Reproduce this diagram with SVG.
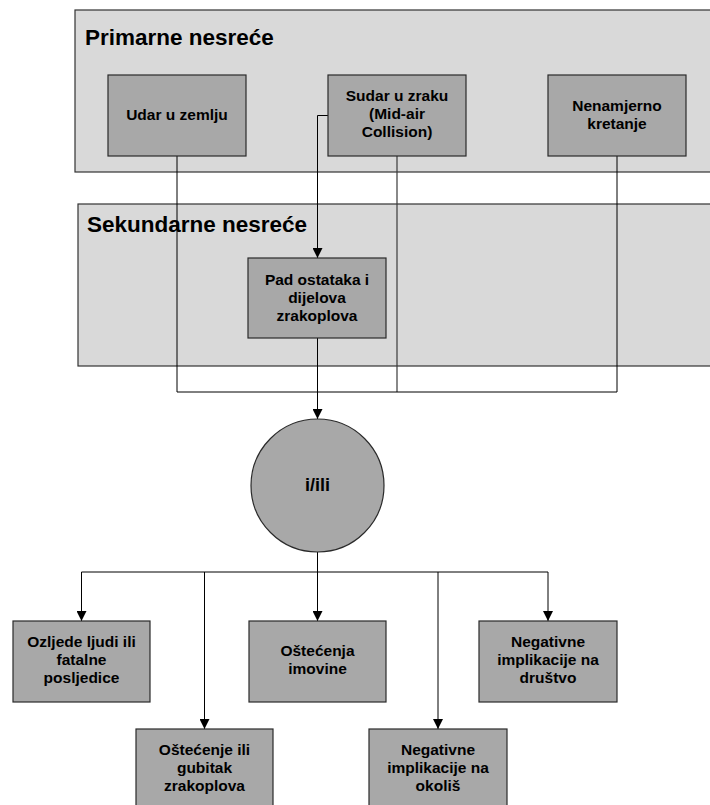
<svg xmlns="http://www.w3.org/2000/svg" width="710" height="805" viewBox="0 0 710 805">
  <defs>
    <marker id="arrow" viewBox="0 0 10 10" refX="10" refY="5" markerWidth="10" markerHeight="10" markerUnits="userSpaceOnUse" orient="auto">
      <path d="M0,0 L10,5 L0,10 z" fill="#000"/>
    </marker>
  </defs>
  <style>
    text { font-family: "Liberation Sans", Arial, sans-serif; font-weight: bold; fill: #000; }
    .panel { fill: #d9d9d9; stroke: #333; stroke-width: 1.2; }
    .panel-title { font-size: 22.5px; }
    .box { fill: #a8a8a8; stroke: #2a2a2a; stroke-width: 1.2; }
    .label { font-size: 15.5px; text-anchor: middle; }
    .big { font-size: 18px; text-anchor: middle; }
    .wire { fill: none; stroke: #000; stroke-width: 1; }
    .wire.grey { stroke: #3a3a3a; stroke-width: 1.2; }
    .arrow { marker-end: url(#arrow); }
  </style>

  <!-- background panels -->
  <g id="primarne">
    <rect class="panel" x="75" y="10" width="650" height="162"/>
    <text class="panel-title" x="85" y="45">Primarne nesreće</text>
  </g>
  <g id="sekundarne">
    <rect class="panel" x="78" y="204" width="650" height="162"/>
    <text class="panel-title" x="87" y="232">Sekundarne nesreće</text>
  </g>

  <!-- connectors -->
  <g id="connectors">
    <path class="wire" d="M177,156 V392"/>
    <path class="wire grey" d="M397,156 V392"/>
    <path class="wire" d="M617,156 V392"/>
    <path class="wire" d="M177,392 H617"/>
    <path class="wire arrow" d="M328,115.5 H317.5 V258"/>
    <path class="wire arrow" d="M317.5,338 V419"/>
    <path class="wire" d="M317.5,552 V572"/>
    <path class="wire" d="M81.5,572 H548"/>
    <path class="wire arrow" d="M81.5,572 V621"/>
    <path class="wire arrow" d="M204.5,572 V729"/>
    <path class="wire arrow" d="M317.5,572 V621"/>
    <path class="wire arrow" d="M438,572 V729"/>
    <path class="wire arrow" d="M548,572 V621"/>
  </g>

  <!-- primary events -->
  <g id="udar">
    <rect class="box" x="108" y="75" width="138" height="81"/>
    <text class="label" x="177" y="120">Udar u zemlju</text>
  </g>
  <g id="sudar">
    <rect class="box" x="328" y="75" width="138" height="81"/>
    <text class="label" x="397" y="101">Sudar u zraku</text>
    <text class="label" x="397" y="119">(Mid-air</text>
    <text class="label" x="397" y="137">Collision)</text>
  </g>
  <g id="nenamjerno">
    <rect class="box" x="548" y="75" width="138" height="81"/>
    <text class="label" x="617" y="111">Nenamjerno</text>
    <text class="label" x="617" y="129">kretanje</text>
  </g>

  <!-- secondary event -->
  <g id="pad">
    <rect class="box" x="248" y="258" width="138" height="80"/>
    <text class="label" x="317" y="284.5">Pad ostataka i</text>
    <text class="label" x="317" y="302.5">dijelova</text>
    <text class="label" x="317" y="320.5">zrakoplova</text>
  </g>

  <!-- junction -->
  <g id="ili">
    <circle cx="317.5" cy="485.5" r="66.5" fill="#a8a8a8" stroke="#2a2a2a" stroke-width="1.2"/>
    <text class="big" x="317.5" y="491">i/ili</text>
  </g>

  <!-- consequences -->
  <g id="ozljede">
    <rect class="box" x="13" y="621" width="137" height="81"/>
    <text class="label" x="81.5" y="647">Ozljede ljudi ili</text>
    <text class="label" x="81.5" y="665">fatalne</text>
    <text class="label" x="81.5" y="683">posljedice</text>
  </g>
  <g id="ostecenje-zrakoplova">
    <rect class="box" x="136" y="729" width="137" height="81"/>
    <text class="label" x="204.5" y="755">Oštećenje ili</text>
    <text class="label" x="204.5" y="773">gubitak</text>
    <text class="label" x="204.5" y="791">zrakoplova</text>
  </g>
  <g id="ostecenja-imovine">
    <rect class="box" x="249" y="621" width="137" height="81"/>
    <text class="label" x="317.5" y="656">Oštećenja</text>
    <text class="label" x="317.5" y="674">imovine</text>
  </g>
  <g id="okolis">
    <rect class="box" x="369" y="729" width="138" height="81"/>
    <text class="label" x="438" y="755">Negativne</text>
    <text class="label" x="438" y="773">implikacije na</text>
    <text class="label" x="438" y="791">okoliš</text>
  </g>
  <g id="drustvo">
    <rect class="box" x="479" y="621" width="138" height="81"/>
    <text class="label" x="548" y="647">Negativne</text>
    <text class="label" x="548" y="665">implikacije na</text>
    <text class="label" x="548" y="683">društvo</text>
  </g>
</svg>
